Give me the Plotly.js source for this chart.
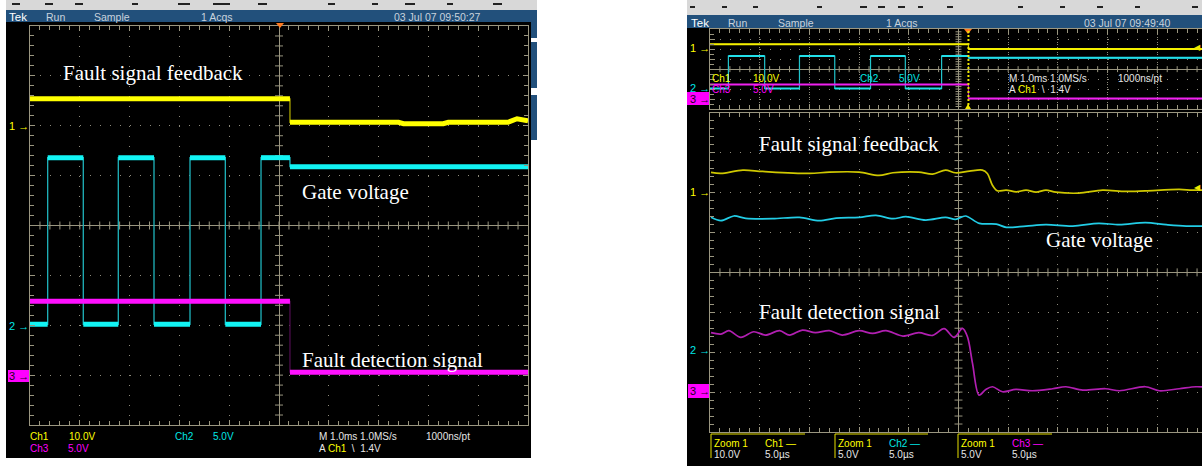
<!DOCTYPE html>
<html><head><meta charset="utf-8">
<script src="https://cdn.plot.ly/plotly-3.0.1.min.js"></script>
<style>html,body{margin:0;padding:0;background:#fff;}#chart{width:1202px;height:466px;}</style>
</head><body><div id="chart"></div>
<script>
// ===== DATA =====
// Channel settings (V/div) and vertical position (div from centre)
const CH_SCALE = [10, 5, 5];
const CH_OFFSET = [2, -2, -3];

// Left capture, time in ms (1 ms/div), volts
const L_CH1_T = [-5, 0.22, 0.22, 2.4, 2.5, 3.3, 3.4, 4.6, 4.78, 5];
const L_CH1_V = [5.4, 5.4, 0.7, 0.7, 0.4, 0.4, 0.7, 0.7, 1.4, 1.0];
const L_CH2_T = [-5, -4.645, -4.645, -3.93, -3.93, -3.227, -3.227, -2.51, -2.51, -1.787, -1.787, -1.078, -1.078, -0.361, -0.361, 0.22, 0.22, 5];
const L_CH2_V = [0.1, 0.1, 16.8, 16.8, 0.1, 0.1, 16.8, 16.8, 0.1, 0.1, 16.8, 16.8, 0.1, 0.1, 16.8, 16.8, 15.9, 15.9];
const L_CH3_T = [-5, 0.22, 0.22, 5];
const L_CH3_V = [7.4, 7.4, 0.3, 0.3];

// Right capture, overview window, time in ms
const O_CH1_T = [-5, 0.2, 0.2, 5];
const O_CH1_V = [4.9, 4.9, 0.3, 0.3];
const O_CH2_T = [-5, -4.63, -4.63, -3.90, -3.90, -3.20, -3.20, -2.49, -2.49, -1.77, -1.77, -1.07, -1.07, -0.34, -0.34, 0.2, 0.2, 5];
const O_CH2_V = [0.3, 0.3, 16.6, 16.6, 0.3, 0.3, 16.6, 16.6, 0.3, 0.3, 16.6, 16.6, 0.3, 0.3, 16.6, 16.6, 15.7, 15.7];
const O_CH3_T = [-5, 0.2, 0.2, 5];
const O_CH3_V = [7.3, 7.3, 0.25, 0.25];
const O_TRIGGER = 0.2;

// Right capture, zoom window, time in µs (5 µs/div)
const Z_CH1_T = [-24.9,-23.9,-21.7,-19.7,-15.0,-13.0,-10.0,-8.0,-6.6,-4.0,-2.6,-1.3,-0.3,1.1,2.4,2.9,3.4,3.9,4.8,5.8,6.8,7.8,8.8,9.8,12.1,14.5,16.8,18.8,22.2,23.5,25.1];
const Z_CH1_V = [5.03,4.78,5.61,5.28,4.78,5.11,5.11,4.28,4.95,5.11,4.61,5.61,4.95,5.36,5.61,4.78,1.9,0.43,0.60,0.18,0.60,0.10,0.60,0.10,-0.15,0.60,0.27,0.43,0.77,0.60,0.60];
const Z_CH2_T = [-24.9,-23.9,-22.6,-21.4,-18.7,-16.0,-14.0,-12.3,-10.0,-8.3,-6.6,-5.3,-3.3,-1.3,-0.3,0.7,2.1,3.8,4.8,6.8,8.8,11.5,14.1,16.2,18.8,20.9,22.9,25.1];
const Z_CH2_V = [16.89,16.47,17.06,16.76,16.72,16.89,16.47,16.80,16.89,17.14,16.72,16.97,16.55,16.89,16.64,17.06,16.14,16.05,15.64,15.80,15.97,15.80,16.14,15.97,16.22,15.97,15.80,15.80];
const Z_CH3_T = [-24.9,-23.9,-23.1,-21.9,-20.6,-19.4,-18.0,-17.0,-15.7,-14.4,-13.0,-11.7,-10.0,-8.65,-7.3,-5.6,-4.0,-2.6,-1.45,-0.44,0.40,0.90,1.41,2.07,2.75,3.42,4.43,5.77,7.44,9.46,10.8,12.5,14.8,16.2,18.8,20.2,22.2,23.9,25.1];
const Z_CH3_V = [7.44,7.27,7.69,6.85,7.56,7.14,7.69,7.14,7.77,7.44,7.69,7.14,7.69,7.35,7.69,7.02,7.44,7.10,7.94,6.85,7.98,6.93,3.59,-0.38,0.33,0.67,0.04,0.33,0.17,0.42,0.67,0.25,0.42,0.17,0.67,0.17,0.42,0.67,0.58];

// Labels
const LABELS = ['Fault signal feedback', 'Gate voltage', 'Fault detection signal'];
const L_HEADER = ['Tek', 'Run', 'Sample', '1 Acqs', '03 Jul 07 09:50:27'];
const R_HEADER = ['Tek', 'Run', 'Sample', '1 Acqs', '03 Jul 07 09:49:40'];

// ===== HELPERS =====
const W = 1202, H = 466;
const PX = x => x / W, PY = y => 1 - y / H;
const FRAME = '#9a9680', GRID = '#8c897b';
const SANS = 'Liberation Sans, Arial, sans-serif';
const SERIF = 'Liberation Serif, Times New Roman, serif';

const toDiv = (vals, ch) => vals.map(v => v / CH_SCALE[ch] + CH_OFFSET[ch]);
function splitEdges(t, y) {
  const tx = [], ty = [];
  for (let i = 0; i < t.length; i++) {
    tx.push(t[i]); ty.push(y[i]);
    if (i < t.length - 1 && t[i] === t[i + 1]) { tx.push(null); ty.push(null); }
  }
  return [tx, ty];
}
const traces = [];
function addChannel(t, v, ch, xa, ya, thinCol, thickCol, thickW, thinW, spline) {
  const y = toDiv(v, ch);
  traces.push({x: t, y: y, xaxis: xa, yaxis: ya, mode: 'lines', hoverinfo: 'skip',
    line: {color: thinCol, width: thinW, shape: spline ? 'spline' : 'linear', smoothing: 0.9}});
  if (thickW) {
    const [sx, sy] = splitEdges(t, y);
    traces.push({x: sx, y: sy, xaxis: xa, yaxis: ya, mode: 'lines', hoverinfo: 'skip', connectgaps: false,
      line: {color: thickCol, width: thickW}});
  }
}

// Left
addChannel(L_CH2_T, L_CH2_V, 1, 'x', 'y', '#1fb4bc', '#12f4f4', 5, 1.3);
addChannel(L_CH1_T, L_CH1_V, 0, 'x', 'y', '#a8a200', '#ffff00', 5, 1.3);
addChannel(L_CH3_T, L_CH3_V, 2, 'x', 'y', '#4a0c4a', '#ff10ff', 5, 1.3);
// Overview
addChannel(O_CH2_T, O_CH2_V, 1, 'x2', 'y2', '#22c4cc', '#22e0ea', 2, 1.2);
addChannel(O_CH1_T, O_CH1_V, 0, 'x2', 'y2', '#c8c400', '#f4f000', 2, 1.2);
addChannel(O_CH3_T, O_CH3_V, 2, 'x2', 'y2', '#b018b0', '#f020f0', 2, 1.2);
// Zoom
addChannel(Z_CH1_T, Z_CH1_V, 0, 'x3', 'y3', '#cfc800', null, 0, 1.7, true);
addChannel(Z_CH2_T, Z_CH2_V, 1, 'x3', 'y3', '#22cde6', null, 0, 1.7, true);
addChannel(Z_CH3_T, Z_CH3_V, 2, 'x3', 'y3', '#b11fb1', null, 0, 1.7, true);

function axisCfg(domain, range, anchor, dtick, minorDtick, dash, mirror) {
  return {domain, range, anchor, dtick, tick0: 0, showticklabels: false,
    showgrid: true, gridcolor: GRID, gridwidth: 1, griddash: dash,
    zeroline: true, zerolinecolor: FRAME, zerolinewidth: 1,
    showline: true, linecolor: FRAME, linewidth: 1, mirror,
    ticks: 'inside', ticklen: 5, tickwidth: 1, tickcolor: FRAME,
    minor: {dtick: minorDtick, tick0: 0, ticks: 'inside', ticklen: 4, tickwidth: 1, tickcolor: FRAME, showgrid: false},
    fixedrange: true};
}

const shapes = [];
function rect(x0, y0, x1, y1, fill) {
  shapes.push({type: 'rect', xref: 'paper', yref: 'paper', x0: PX(x0), x1: PX(x1), y0: PY(y1), y1: PY(y0),
    fillcolor: fill, line: {width: 0}, layer: 'below'});
}
function pline(x0, y0, x1, y1, color, w, layer) {
  shapes.push({type: 'line', xref: 'paper', yref: 'paper', x0: PX(x0), x1: PX(x1), y0: PY(y0), y1: PY(y1),
    line: {color, width: w}, layer: layer || 'above'});
}
function tri(pts, color) {
  const p = pts.map((q, i) => (i ? 'L' : 'M') + PX(q[0]) + ',' + PY(q[1])).join(' ') + ' Z';
  shapes.push({type: 'path', xref: 'paper', yref: 'paper', path: p, fillcolor: color, line: {width: 0}, layer: 'above'});
}
function centerTicks(xa, ya, xStep, nx, halfY, yStep, ny, halfX) {
  for (let k = -nx; k <= nx; k++) shapes.push({type: 'line', xref: xa, yref: ya, x0: k * xStep, x1: k * xStep,
    y0: -halfY, y1: halfY, line: {color: FRAME, width: 1}, layer: 'between'});
  for (let k = -ny; k <= ny; k++) shapes.push({type: 'line', xref: xa, yref: ya, x0: -halfX, x1: halfX,
    y0: k * yStep, y1: k * yStep, line: {color: FRAME, width: 1}, layer: 'between'});
}

// Backgrounds - left capture
rect(6, 0, 537, 10, '#d8d8d8');
rect(6, 10, 537, 22, '#22507b');
rect(6, 22, 531, 458, '#000000');
rect(531, 22, 537, 38, '#22507b');
rect(531, 42, 537, 88, '#22507b');
rect(531, 95, 537, 140, '#22507b');
// Backgrounds - right capture
rect(687, 0, 1202, 15, '#d8d8d8');
rect(687, 15, 1202, 28, '#22507b');
rect(687, 28, 1202, 466, '#000000');
// cut-off toolbar marks
[[12,20],[45,53],[75,83],[132,138],[178,190],[213,230],[258,267],[328,335],[372,378],[405,415],[447,453],[493,502]]
  .forEach(d => pline(d[0], 4, d[1], 4, '#222', 2));
[[690,695],[722,727],[753,758],[817,822],[860,867],[878,885],[898,905],[918,923],[947,953],[1018,1023],[1060,1065],[1097,1103],[1135,1140],[1192,1198]]
  .forEach(d => pline(d[0], 7, d[1], 7, '#222', 2));

// Centre crosshair ticks
centerTicks('x', 'y', 0.2, 24, 0.08, 0.2, 19, 0.08);
centerTicks('x2', 'y2', 0.2, 24, 0.3, 0.25, 15, 0.06);
centerTicks('x3', 'y3', 1, 24, 0.1, 0.2, 19, 0.4);

// Trigger markers
tri([[276, 23], [284, 23], [280, 28]], '#ff7a20');
tri([[964, 29], [972, 29], [968, 34]], '#ff7a20');
tri([[965, 109], [971, 109], [968, 104]], '#f0e800');
shapes.push({type: 'line', xref: 'x2', yref: 'y2', x0: O_TRIGGER, x1: O_TRIGGER, y0: -4, y1: 4,
  line: {color: '#f0e800', width: 2, dash: '2px,2px'}, layer: 'above'});

// Channel ground markers (boxes for ch3)
rect(8, 370, 29, 382, '#ff00ff');
rect(687, 92, 710, 105, '#ff00ff');
rect(688, 384, 710, 398, '#ff00ff');

// Zoom readout boxes
[[711, 805], [835, 928], [958, 1052]].forEach(b => {
  pline(b[0], 434, b[1], 434, '#e8e000', 1);
  pline(b[0], 434, b[0], 458, '#e8e000', 1);
});

// ===== ANNOTATIONS =====
const ann = [];
function txt(x, y, text, color, size, opts) {
  ann.push(Object.assign({xref: 'paper', yref: 'paper', x: PX(x), y: PY(y), text, showarrow: false,
    xanchor: 'left', yanchor: 'middle', borderpad: 0,
    font: {family: SANS, size, color}}, opts || {}));
}
function serif(x, y, text) {
  txt(x, y, text, '#ffffff', 21, {font: {family: SERIF, size: 21, color: '#ffffff'}});
}
const Y = '#ffff00', C = '#00e6e6', M = '#ff00ff', WH = '#e6e6e6', HD = '#c9d3dd';

// headers
[8, 45, 93, 200, 393].forEach((x, i) => txt(x, 17, L_HEADER[i], i ? HD : '#ffffff', i ? 10.5 : 11.5));
[690, 727, 777, 885, 1083].forEach((x, i) => txt(x, 22.5, R_HEADER[i], i ? HD : '#ffffff', i ? 10.5 : 11.5));

// waveform labels
serif(62, 73, LABELS[0]); serif(301, 192, LABELS[1]); serif(301, 360, LABELS[2]);
serif(758, 144, LABELS[0]); serif(1045, 240, LABELS[1]); serif(758, 312, LABELS[2]);

// ground markers
const mk = (x, y, t, col) => txt(x, y, t, col, 11, {xanchor: 'right'});
mk(30, 126, '1 \u2192', Y); mk(30, 326, '2 \u2192', C); mk(30, 376, '3 \u2192', '#1a001a');
mk(711, 48, '1 \u2192', Y); mk(711, 88, '2 \u2192', C); mk(711, 98.5, '3 \u2192', '#1a001a');
mk(711, 192, '1 \u2192', Y); mk(711, 350, '2 \u2192', C); mk(711, 391, '3 \u2192', '#1a001a');
// trigger level arrows
txt(1202, 48, '\u25C0', '#f0e800', 8, {xanchor: 'right'});
txt(1202, 188, '\u25C0', '#f0e800', 8, {xanchor: 'right'});

// left readouts
const trig = 'A <span style="color:#ffff00">Ch1</span>  \\  1.4V';
txt(29, 436, 'Ch1', Y, 10); txt(68, 436, '10.0V', Y, 10); txt(174, 436, 'Ch2', C, 10); txt(212, 436, '5.0V', C, 10);
txt(318, 436, 'M 1.0ms 1.0MS/s', WH, 10); txt(425, 436, '1000ns/pt', WH, 10);
txt(29, 448.5, 'Ch3', M, 10); txt(67, 448.5, '5.0V', M, 10); txt(318, 448.5, trig, WH, 10);
// overview readouts
txt(711, 78, 'Ch1', Y, 10); txt(752, 78, '10.0V', Y, 10); txt(859, 78, 'Ch2', C, 10); txt(898, 78, '5.0V', C, 10);
txt(1008, 78, 'M 1.0ms 1.0MS/s', WH, 10); txt(1117, 78, '1000ns/pt', WH, 10);
txt(711, 89.5, 'Ch3', M, 10); txt(752, 89.5, '5.0V', M, 10); txt(1008, 89.5, trig, WH, 10);
// zoom readouts
const zc = [['Ch1 \u2014', Y, '10.0V'], ['Ch2 \u2014', C, '5.0V'], ['Ch3 \u2014', M, '5.0V']];
[713, 837, 960].forEach((x, i) => {
  txt(x, 443, 'Zoom 1', Y, 10); txt(x + 51, 443, zc[i][0], zc[i][1], 10);
  txt(x, 454.5, zc[i][2], WH, 10); txt(x + 51, 454.5, '5.0\u00B5s', WH, 10);
});

// ===== LAYOUT =====
const layout = {
  width: W, height: H, margin: {l: 0, r: 0, t: 0, b: 0, pad: 0},
  paper_bgcolor: '#ffffff', plot_bgcolor: 'rgba(0,0,0,0)', showlegend: false,
  font: {family: SANS},
  xaxis: axisCfg([PX(30), PX(528)], [-5, 5], 'y', 1, 0.2, '1px,8.98px', 'allticks'),
  yaxis: axisCfg([PY(425), PY(26)], [-4, 4], 'x', 1, 0.2, '1px,8.96px', 'allticks'),
  xaxis2: axisCfg([PX(710), 1], [-5, -5 + 492 / 49.7], 'y2', 1, 0.2, '1px,1.5px', 'allticks'),
  yaxis2: axisCfg([PY(109), PY(29.3)], [-4, 4], 'x2', 1, 0.5, '1px,8.94px', false),
  xaxis3: axisCfg([PX(710), 1], [-25, -25 + 492 / 9.94], 'y3', 5, 1, '1px,6.98px', 'allticks'),
  yaxis3: axisCfg([PY(432), PY(112.7)], [-4, 4], 'x3', 1, 0.2, '1px,8.94px', false),
  shapes, annotations: ann
};
Plotly.newPlot('chart', traces, layout, {staticPlot: true, displayModeBar: false});
</script>
</body></html>
